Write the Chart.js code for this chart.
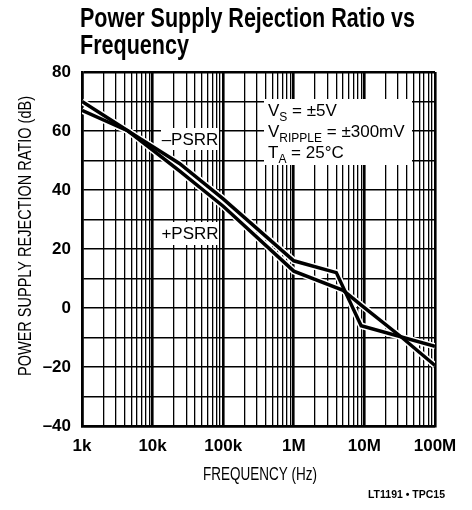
<!DOCTYPE html>
<html>
<head>
<meta charset="utf-8">
<script src="https://cdn.jsdelivr.net/npm/chart.js@4.4.1/dist/chart.umd.min.js"></script>
<style>
  html, body { margin: 0; padding: 0; background: #fff; }
</style>
</head>
<body>
<canvas id="psrrChart" width="472" height="510"></canvas>
<script>
// Data (frequency in Hz, PSRR in dB)
const plusFreq  = [1e3, 4.5e3, 2.4e4, 1e5, 1e6, 5e6, 9e6, 3.4e7, 1e8];
const plusPsrr  = [70, 60, 46.5, 34.5, 12.5, 6, 1, -10, -19.5];
const minusFreq = [1e3, 4.5e3, 2.4e4, 1e5, 1e6, 4e6, 9e6, 1e8];
const minusPsrr = [67, 60, 49, 37, 16, 12, -6, -13];

// Axis ticks
const decades = [1e3, 1e4, 1e5, 1e6, 1e7, 1e8];
const decadeLabels = ['1k', '10k', '100k', '1M', '10M', '100M'];
const yMin = -40, yMax = 80, yStep = 10;

const plain = "'Liberation Sans', Arial, sans-serif";

// grid lines at 1..9 of every decade
const gridFreqs = [];
decades.forEach((d, i) => {
    if (i === decades.length - 1) { gridFreqs.push(d); return; }
    for (let m = 1; m <= 9; m++) gridFreqs.push(d * m);
});

function toPoints(xs, ys) {
    return xs.map((x, i) => ({ x: x, y: ys[i] }));
}

function fmtDb(v) {
    return v < 0 ? '\u2013' + Math.abs(v) : String(v);
}

// the original uses a condensed face; squeeze a normal one horizontally
function squeezedText(ctx, text, x, y, sx) {
    ctx.save();
    ctx.translate(x, y);
    ctx.scale(sx, 1);
    ctx.fillText(text, 0, 0);
    ctx.restore();
}

// draw a run of text pieces, some as subscripts
function drawRuns(ctx, runs, x, y, size, subSize) {
    runs.forEach(r => {
        ctx.font = (r.sub ? subSize : size) + 'px ' + plain;
        ctx.fillText(r.t, x, r.sub ? y + 5 : y);
        x += ctx.measureText(r.t).width;
    });
}

const textPlugin = {
    id: 'textPlugin',
    beforeDatasetsDraw(chart) {
        // white patches behind the labels, over the grid
        const ctx = chart.ctx;
        ctx.save();
        ctx.fillStyle = '#fff';
        ctx.fillRect(161, 128, 58, 22);
        ctx.fillRect(161, 222, 58, 23);
        ctx.fillRect(264, 99, 148, 66);
        ctx.restore();
    },
    afterDraw(chart) {
        const ctx = chart.ctx;
        ctx.save();
        ctx.fillStyle = '#000';

        // title
        ctx.textAlign = 'left';
        ctx.textBaseline = 'alphabetic';
        ctx.font = 'bold 27px ' + plain;
        const line1 = 'Power Supply Rejection Ratio vs';
        const sx = 335 / ctx.measureText(line1).width;
        squeezedText(ctx, line1, 80, 27, sx);
        squeezedText(ctx, 'Frequency', 80, 54, sx);

        // y axis title
        ctx.save();
        ctx.translate(26, 236);
        ctx.rotate(-Math.PI / 2);
        ctx.textAlign = 'center';
        ctx.textBaseline = 'middle';
        ctx.font = '17.5px ' + plain;
        const yTitle = 'POWER SUPPLY REJECTION RATIO (dB)';
        squeezedText(ctx, yTitle, 0, 0, 280 / ctx.measureText(yTitle).width);
        ctx.restore();

        // x axis title
        ctx.textAlign = 'center';
        ctx.textBaseline = 'middle';
        ctx.font = '17.5px ' + plain;
        const xTitle = 'FREQUENCY (Hz)';
        squeezedText(ctx, xTitle, 260, 475, 114 / ctx.measureText(xTitle).width);

        // curve labels
        ctx.font = '17px ' + plain;
        ctx.fillText('\u2013PSRR', 190, 140);
        ctx.fillText('+PSRR', 190, 234);

        // conditions
        ctx.textAlign = 'left';
        ctx.textBaseline = 'alphabetic';
        drawRuns(ctx, [{ t: 'V' }, { t: 'S', sub: true }, { t: ' = \u00b15V' }], 268, 116, 17, 12);
        drawRuns(ctx, [{ t: 'V' }, { t: 'RIPPLE', sub: true }, { t: ' = \u00b1300mV' }], 268, 137, 17, 12);
        drawRuns(ctx, [{ t: 'T' }, { t: 'A', sub: true }, { t: ' = 25\u00b0C' }], 268, 158, 17, 12);

        // figure code
        ctx.textAlign = 'right';
        ctx.textBaseline = 'middle';
        ctx.font = 'bold 10.5px ' + plain;
        ctx.fillText('LT1191 \u2022 TPC15', 445, 495);
        ctx.restore();
    }
};

const ctx = document.getElementById('psrrChart').getContext('2d');

new Chart(ctx, {
    type: 'line',
    data: {
        datasets: [
            {
                label: '-PSRR',
                data: toPoints(minusFreq, minusPsrr),
                borderColor: '#000',
                borderWidth: 3.5,
                pointRadius: 0,
                order: 0
            },
            {
                label: '+PSRR',
                data: toPoints(plusFreq, plusPsrr),
                borderColor: '#000',
                borderWidth: 3.5,
                pointRadius: 0,
                order: 0
            },
            {
                label: '-PSRR halo',
                data: toPoints(minusFreq, minusPsrr),
                borderColor: '#fff',
                borderWidth: 6.5,
                pointRadius: 0,
                order: 1
            },
            {
                label: '+PSRR halo',
                data: toPoints(plusFreq, plusPsrr),
                borderColor: '#fff',
                borderWidth: 6.5,
                pointRadius: 0,
                order: 1
            }
        ]
    },
    options: {
        responsive: false,
        animation: false,
        layout: { padding: { top: 72, right: 37, left: 0, bottom: 0 } },
        plugins: {
            legend: { display: false },
            tooltip: { enabled: false },
            title: { display: false }
        },
        scales: {
            x: {
                type: 'logarithmic',
                min: 1e3,
                max: 1e8,
                afterBuildTicks: scale => {
                    scale.ticks = gridFreqs.map(v => ({ value: v }));
                },
                afterFit: scale => { scale.height = 84; },
                ticks: {
                    autoSkip: false,
                    maxRotation: 0,
                    padding: 10,
                    color: '#000',
                    font: { family: plain, size: 17, weight: 'bold' },
                    callback: value => {
                        const i = decades.indexOf(value);
                        return i >= 0 ? decadeLabels[i] : '';
                    }
                },
                grid: {
                    color: '#000',
                    drawTicks: false,
                    lineWidth: c => (decades.includes(c.tick.value) ? 2.6 : 1.3)
                },
                border: { display: true, color: '#000', width: 2.5 }
            },
            y: {
                type: 'linear',
                min: yMin,
                max: yMax,
                afterFit: scale => { scale.width = 82; },
                ticks: {
                    stepSize: yStep,
                    padding: 11,
                    color: '#000',
                    font: { family: plain, size: 17, weight: 'bold' },
                    callback: v => (v % 20 === 0 ? fmtDb(v) : '')
                },
                grid: {
                    color: '#000',
                    drawTicks: false,
                    lineWidth: c => (c.tick.value === yMax || c.tick.value === yMin ? 2.5 : 1.6)
                },
                border: { display: true, color: '#000', width: 2.5 }
            }
        }
    },
    plugins: [textPlugin]
});
</script>
</body>
</html>
